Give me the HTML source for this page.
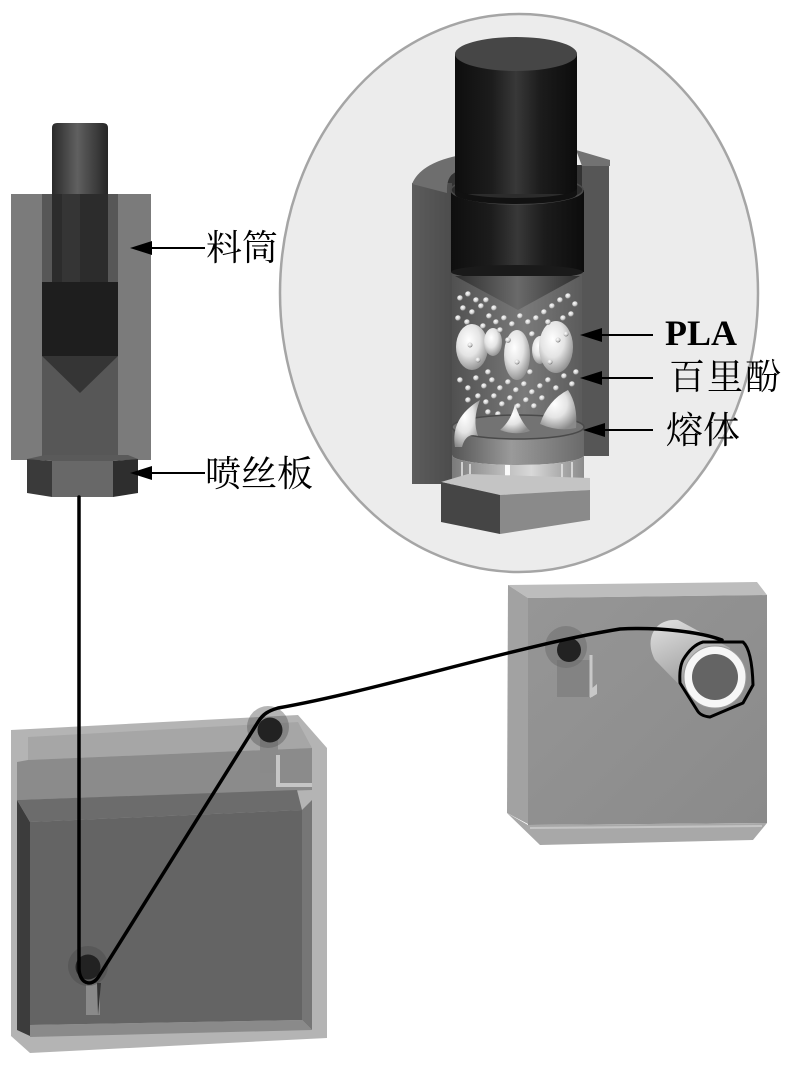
<!DOCTYPE html>
<html><head><meta charset="utf-8"><style>html,body{margin:0;padding:0;background:#fff}svg{display:block}</style></head>
<body>
<svg width="800" height="1081" viewBox="0 0 800 1081" xmlns="http://www.w3.org/2000/svg">
<defs>
 <linearGradient id="rodL" x1="0" x2="1"><stop offset="0" stop-color="#2a2a2a"/><stop offset="0.45" stop-color="#606060"/><stop offset="1" stop-color="#262626"/></linearGradient>
 <linearGradient id="rodM" x1="0" x2="1"><stop offset="0" stop-color="#0e0e0e"/><stop offset="0.3" stop-color="#1c1c1c"/><stop offset="0.5" stop-color="#383838"/><stop offset="0.7" stop-color="#1c1c1c"/><stop offset="1" stop-color="#0c0c0c"/></linearGradient>
 <linearGradient id="coneG" x1="0" x2="1"><stop offset="0" stop-color="#2e2e2e"/><stop offset="0.5" stop-color="#6a6a6a"/><stop offset="1" stop-color="#2e2e2e"/></linearGradient>
 <linearGradient id="cav" x1="0" x2="1"><stop offset="0" stop-color="#505050"/><stop offset="0.55" stop-color="#7a7a7a"/><stop offset="1" stop-color="#5a5a5a"/></linearGradient>
 <linearGradient id="melt" x1="0" x2="1"><stop offset="0" stop-color="#555"/><stop offset="0.45" stop-color="#9a9a9a"/><stop offset="1" stop-color="#6a6a6a"/></linearGradient>
 <linearGradient id="ring" x1="0" x2="1"><stop offset="0" stop-color="#7a7a7a"/><stop offset="0.4" stop-color="#bdbdbd"/><stop offset="0.6" stop-color="#d8d8d8"/><stop offset="1" stop-color="#8a8a8a"/></linearGradient>
 <linearGradient id="wallL" x1="0" x2="1"><stop offset="0" stop-color="#5c5c5c"/><stop offset="1" stop-color="#4c4c4c"/></linearGradient>
 <linearGradient id="cyl" x1="0" y1="0" x2="0.4" y2="1"><stop offset="0" stop-color="#e2e2e2"/><stop offset="1" stop-color="#8e8e8e"/></linearGradient>
 <linearGradient id="boxF" x1="0" y1="0" x2="1" y2="1"><stop offset="0" stop-color="#969696"/><stop offset="1" stop-color="#8a8a8a"/></linearGradient>
 <radialGradient id="blob" cx="0.4" cy="0.35" r="0.7"><stop offset="0" stop-color="#ffffff"/><stop offset="0.5" stop-color="#e4e4e4"/><stop offset="1" stop-color="#8a8a8a"/></radialGradient>
 <radialGradient id="sph" cx="0.4" cy="0.35" r="0.7"><stop offset="0" stop-color="#ffffff"/><stop offset="0.6" stop-color="#cfcfcf"/><stop offset="1" stop-color="#5a5a5a"/></radialGradient>
</defs>

<!-- ===== Left extruder ===== -->
<path d="M52 128 Q52 123 57 123 L103 123 Q108 123 108 128 L108 200 L52 200 Z" fill="url(#rodL)"/>
<rect x="11" y="194" width="140" height="266" fill="#7b7b7b"/>
<rect x="42" y="194" width="76" height="266" fill="#575757"/>
<rect x="52" y="194" width="56" height="88" fill="#2c2c2c"/>
<rect x="62" y="194" width="18" height="88" fill="#353535"/>
<rect x="42" y="282" width="76" height="74" fill="#1e1e1e"/>
<polygon points="42,356 118,356 80,393" fill="#353535"/>
<!-- nut -->
<polygon points="27,459 45,455 128,455 138,459 113,461 52,461" fill="#5a5a5a"/>
<polygon points="27,459 52,461 52,497 27,493" fill="#3a3a3a"/>
<polygon points="52,461 113,461 113,497 52,497" fill="#686868"/>
<polygon points="113,461 138,459 138,493 113,497" fill="#2e2e2e"/>

<!-- labels left -->
<line x1="150" y1="248" x2="205" y2="248" stroke="#000" stroke-width="2"/>
<polygon points="130,248 152,241 152,255" fill="#000"/>
<text x="206" y="260" font-family="'Liberation Serif','Noto Serif CJK SC',serif" font-size="36" fill="#000">料筒</text>
<line x1="150" y1="473" x2="205" y2="473" stroke="#000" stroke-width="2"/>
<polygon points="130,473 152,466 152,480" fill="#000"/>
<text x="205" y="486" font-family="'Liberation Serif','Noto Serif CJK SC',serif" font-size="36" fill="#000">喷丝板</text>

<!-- ===== Magnified circle ===== -->
<ellipse cx="519" cy="293" rx="239" ry="279" fill="#ececec" stroke="#a5a5a5" stroke-width="2.5"/>
<!-- cavity background -->
<rect x="445" y="165" width="140" height="30" fill="#333"/>
<rect x="451" y="190" width="133" height="250" fill="url(#cav)"/>
<!-- walls -->
<rect x="412" y="183" width="40" height="301" fill="url(#wallL)"/>
<path d="M412 184 Q420 164 456 156 L456 172 Q446 176 447 193 Z" fill="#6e6e6e"/>
<rect x="582" y="163" width="27" height="293" fill="#565656"/>
<polygon points="576,150 610,160 610,166 582,166" fill="#727272"/>
<!-- collar -->
<rect x="451" y="190" width="133" height="82" fill="url(#rodM)"/>
<ellipse cx="517" cy="272" rx="66" ry="7" fill="#1a1a1a"/>
<ellipse cx="517" cy="190" rx="66" ry="14" fill="#2c2c2c" stroke="#4a4a4a" stroke-width="1.5"/>
<!-- rod -->
<rect x="455" y="54" width="122" height="140" fill="url(#rodM)"/>
<path d="M455 188 A61 10 0 0 0 577 188 L577 194 A61 10 0 0 1 455 194 Z" fill="#111"/>
<ellipse cx="516" cy="54" rx="61" ry="17" fill="#464646"/>
<!-- cone -->
<path d="M455 276 L580 276 L518 310 Z" fill="url(#coneG)"/>
<!-- big blobs -->
<ellipse cx="472" cy="347" rx="16" ry="23" fill="url(#blob)"/>
<ellipse cx="493" cy="342" rx="9" ry="14" fill="url(#blob)"/>
<ellipse cx="517" cy="355" rx="13" ry="25" fill="url(#blob)"/>
<ellipse cx="540" cy="350" rx="8" ry="14" fill="url(#blob)"/>
<ellipse cx="556" cy="347" rx="17" ry="26" fill="url(#blob)"/>
<!-- small spheres -->
<g fill="url(#sph)">
<circle cx="460" cy="298" r="2.8"/><circle cx="468" cy="294" r="2.8"/><circle cx="476" cy="300" r="2.8"/><circle cx="463" cy="308" r="2.8"/><circle cx="472" cy="312" r="2.8"/><circle cx="481" cy="306" r="2.8"/><circle cx="489" cy="316" r="2.8"/><circle cx="458" cy="318" r="2.8"/><circle cx="467" cy="322" r="2.8"/><circle cx="496" cy="322" r="2.8"/><circle cx="504" cy="318" r="2.8"/><circle cx="512" cy="324" r="2.8"/><circle cx="520" cy="316" r="2.8"/><circle cx="528" cy="322" r="2.8"/><circle cx="536" cy="318" r="2.8"/><circle cx="544" cy="312" r="2.8"/><circle cx="552" cy="306" r="2.8"/><circle cx="560" cy="300" r="2.8"/><circle cx="568" cy="296" r="2.8"/><circle cx="575" cy="304" r="2.8"/><circle cx="571" cy="314" r="2.8"/><circle cx="563" cy="318" r="2.8"/><circle cx="548" cy="322" r="2.8"/><circle cx="486" cy="300" r="2.8"/><circle cx="494" cy="308" r="2.8"/><circle cx="500" cy="330" r="2.8"/><circle cx="483" cy="326" r="2.8"/><circle cx="532" cy="334" r="2.8"/><circle cx="508" cy="340" r="2.8"/><circle cx="470" cy="345" r="2.5"/><circle cx="558" cy="340" r="2.5"/><circle cx="517" cy="362" r="2.5"/><circle cx="566" cy="334" r="2.5"/><circle cx="478" cy="360" r="2.5"/><circle cx="550" cy="362" r="2.5"/>
<circle cx="460" cy="380" r="2.8"/><circle cx="468" cy="388" r="2.8"/><circle cx="476" cy="378" r="2.8"/><circle cx="484" cy="386" r="2.8"/><circle cx="492" cy="380" r="2.8"/><circle cx="500" cy="388" r="2.8"/><circle cx="508" cy="382" r="2.8"/><circle cx="516" cy="390" r="2.8"/><circle cx="524" cy="384" r="2.8"/><circle cx="532" cy="392" r="2.8"/><circle cx="540" cy="386" r="2.8"/><circle cx="548" cy="380" r="2.8"/><circle cx="556" cy="388" r="2.8"/><circle cx="564" cy="376" r="2.8"/><circle cx="572" cy="384" r="2.8"/><circle cx="478" cy="396" r="2.8"/><circle cx="486" cy="402" r="2.8"/><circle cx="494" cy="396" r="2.8"/><circle cx="502" cy="404" r="2.8"/><circle cx="510" cy="398" r="2.8"/><circle cx="518" cy="406" r="2.8"/><circle cx="526" cy="400" r="2.8"/><circle cx="534" cy="406" r="2.8"/><circle cx="542" cy="398" r="2.8"/><circle cx="488" cy="412" r="2.8"/><circle cx="498" cy="414" r="2.8"/><circle cx="468" cy="400" r="2.8"/><circle cx="576" cy="372" r="2.8"/><circle cx="565" cy="395" r="2.8"/><circle cx="488" cy="372" r="2.8"/><circle cx="530" cy="372" r="2.8"/>
</g>
<!-- melt disc -->
<path d="M452 427 L452 455 A66 10 0 0 0 584 455 L584 427 Z" fill="url(#melt)"/>
<ellipse cx="518" cy="427" rx="66" ry="12" fill="#737373" stroke="#4a4a4a" stroke-width="1.5"/>
<!-- horns on melt -->
<path d="M455 447 Q450 418 480 400 Q472 420 478 436 Q466 432 462 447 Z" fill="url(#blob)"/>
<path d="M500 430 Q511 421 515 404 Q520 421 530 431 Q515 436 500 430 Z" fill="url(#blob)"/>
<path d="M540 424 Q548 400 568 390 Q578 405 576 428 Q558 432 540 424 Z" fill="url(#blob)"/>
<!-- nozzle ring -->
<path d="M452 455 L452 486 A66 9 0 0 0 584 486 L584 455 A66 10 0 0 1 452 455 Z" fill="url(#ring)"/>
<g stroke="#e8e8e8" stroke-width="1.5"><line x1="462" y1="462" x2="462" y2="490"/><line x1="470" y1="464" x2="470" y2="492"/><line x1="562" y1="464" x2="562" y2="492"/><line x1="572" y1="462" x2="572" y2="490"/></g>
<rect x="505" y="465" width="5" height="30" fill="#fafafa"/>
<!-- hex -->
<polygon points="441,482 468,474 590,478 590,490 500,495" fill="#c4c4c4"/>
<polygon points="441,482 500,495 500,534 441,522" fill="#454545"/>
<polygon points="500,495 590,490 590,520 500,534" fill="#8a8a8a"/>

<!-- labels right -->
<g stroke="#000" stroke-width="2">
<line x1="598" y1="335" x2="653" y2="335"/><line x1="598" y1="378" x2="653" y2="378"/><line x1="601" y1="430" x2="653" y2="430"/>
</g>
<polygon points="580,335 602,328 602,342" fill="#000"/>
<polygon points="580,378 602,371 602,385" fill="#000"/>
<polygon points="583,430 605,423 605,437" fill="#000"/>
<text x="665" y="345" font-family="'Liberation Serif',serif" font-weight="bold" font-size="36" fill="#000">PLA</text>
<text x="669" y="389" font-family="'Liberation Serif','Noto Serif CJK SC',serif" font-size="36" letter-spacing="2" fill="#000">百里酚</text>
<text x="666" y="443" font-family="'Liberation Serif','Noto Serif CJK SC',serif" font-size="37" fill="#000">熔体</text>

<!-- ===== Tank ===== -->
<polygon points="11,730 298,715 327,748 327,1038 30,1053 11,1036" fill="#b4b4b4"/>
<polygon points="28,737 298,722 312,748 28,760" fill="#a6a6a6"/>
<polygon points="17,762 28,760 312,748 312,790 17,800" fill="#8b8b8b"/>
<polygon points="17,800 30,822 30,1036 17,1030" fill="#3c3c3c"/>
<polygon points="17,800 297,790 302,810 30,822" fill="#6c6c6c"/>
<polygon points="30,822 302,810 302,1020 30,1025" fill="#646464"/>
<polygon points="302,810 312,800 312,1030 302,1020" fill="#767676"/>
<polygon points="30,1025 302,1020 312,1030 30,1037" fill="#8a8a8a"/>
<!-- top bracket -->
<rect x="260" y="728" width="18" height="45" fill="#8a8a8a"/>
<path d="M278 755 V785 H312" fill="none" stroke="#c6c6c6" stroke-width="4"/>
<circle cx="268" cy="727" r="21" fill="#5a5a5a" opacity="0.45"/>
<circle cx="270" cy="730" r="12.5" fill="#222"/>
<!-- bottom roller -->
<rect x="86" y="983" width="14" height="32" fill="#8a8a8a"/>
<polygon points="97,983 101,983 98,1015" fill="#333"/>
<circle cx="88" cy="966" r="20" fill="#4a4a4a" opacity="0.45"/>
<circle cx="88" cy="967" r="12.5" fill="#222"/>

<!-- ===== Right box ===== -->
<polygon points="508,585 757,582 767,595 528,598" fill="#bdbdbd"/>
<polygon points="508,585 528,598 528,824 507,813" fill="#a2a2a2"/>
<polygon points="528,598 767,595 767,823 528,825" fill="url(#boxF)"/>
<polygon points="507,813 528,825 767,823 753,840 540,845" fill="#a8a8a8"/>
<line x1="530" y1="828" x2="762" y2="826" stroke="#c4c4c4" stroke-width="2"/>
<!-- bracket + roller -->
<rect x="557" y="660" width="34" height="37" fill="#838383"/>
<line x1="591" y1="655" x2="591" y2="697" stroke="#c8c8c8" stroke-width="3"/>
<polygon points="590,690 597,684 597,694 590,698" fill="#c8c8c8"/>
<circle cx="566" cy="647" r="21" fill="#666" opacity="0.45"/>
<circle cx="569" cy="650" r="12" fill="#222"/>
<!-- spool -->
<path d="M655 660 C644 640 654 618 678 620 L730 648 L700 706 Z" fill="url(#cyl)"/>
<circle cx="715" cy="677" r="31" fill="#f6f6f6" stroke="#9a9a9a" stroke-width="1"/>
<circle cx="715" cy="677" r="23" fill="#646464"/>

<!-- ===== Filament ===== -->
<path d="M79 497 L79 968 C79 984 92 988 99 976 L258 722 C263 714 268 711 278 708 C380 690 520 645 620 629 C660 627 700 632 722 640" fill="none" stroke="#000" stroke-width="3.5" stroke-linecap="round" stroke-linejoin="round"/>
<path d="M703 642 L743 642 Q752 650 753 685 L743 703 L710 717 Q700 716 697 710 L680 683 Q679 668 683 660 Q692 645 703 642 Z" fill="none" stroke="#000" stroke-width="3" stroke-linejoin="round"/>
</svg>
</body></html>
